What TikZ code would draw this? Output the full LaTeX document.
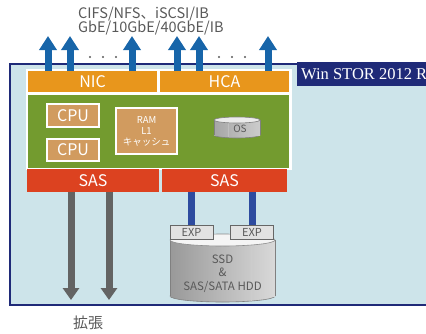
\documentclass[tikz,border=0pt]{standalone}
\usepackage{fontspec}
\setmainfont{Noto Sans CJK JP}
\newfontfamily\serifwin{Liberation Serif}
\usetikzlibrary{arrows.meta}
\definecolor{panelbg}{HTML}{CDE4EA}
\definecolor{navy}{HTML}{1F2A78}
\definecolor{nicorange}{HTML}{E8961C}
\definecolor{boardgreen}{HTML}{739B2F}
\definecolor{tan}{HTML}{D19B5F}
\definecolor{sasred}{HTML}{DC4220}
\definecolor{upblue}{HTML}{1765A9}
\definecolor{barblue}{HTML}{2D4B9F}
\definecolor{arrowgray}{HTML}{636363}
\definecolor{txtgray}{HTML}{595959}
\definecolor{expgray}{HTML}{E2E2E2}
\begin{document}
\begin{tikzpicture}[x=1pt,y=-1pt,
  blk/.style={inner sep=0pt,outer sep=0pt,text=white,font=\fontsize{16}{16}\selectfont},
  chip/.style={blk,fill=tan,draw=white,line width=1.8pt},
  expbox/.style={inner sep=0pt,outer sep=0pt,fill=expgray,draw=black!60,line width=0.8pt,
    minimum width=43pt,minimum height=14pt,text=txtgray,font=\fontsize{11}{11}\selectfont},
  uparrow/.style={draw=upblue,line width=7pt,-{Triangle[width=17pt,length=14pt]}},
  downarrow/.style={draw=arrowgray,line width=7pt,-{Triangle[width=16pt,length=12pt]}},
  bluebar/.style={draw=barblue,line width=7pt},
  gtxt/.style={text=txtgray,inner sep=0pt}
]
\useasboundingbox (0,0) rectangle (426,333);
\clip (0,0) rectangle (426,333);
% outer panel
\draw[fill=panelbg,draw=navy,line width=2pt] (10,64) rectangle (445,305);
\fill[navy] (297,62) rectangle (440,86);
\node[anchor=west,inner sep=0pt,text=white,font=\serifwin\fontsize{16.5}{16.5}\selectfont] (win) at (301,74.5) {Win STOR 2012 R2};
% white board frame
\fill[white] (26,69) rectangle (292,170);
\node[blk,fill=nicorange,minimum width=129pt,minimum height=21pt] (nic) at (92.5,81.5) {NIC};
\node[blk,fill=nicorange,minimum width=129pt,minimum height=21pt] (hca) at (224.5,81.5) {HCA};
\node[blk,fill=boardgreen,minimum width=261pt,minimum height=73pt] (board) at (158.5,131.5) {};
\node[chip,minimum width=52pt,minimum height=23pt] (cpu1) at (73,115.5) {CPU};
\node[chip,minimum width=52pt,minimum height=22pt] (cpu2) at (73,150) {CPU};
\node[chip,minimum width=61pt,minimum height=46pt,align=center,font=\fontsize{9.5}{11}\selectfont] (ram) at (146.5,131) {RAM\\L1\\キャッシュ};
% OS cylinder
\begin{scope}
\shade[left color=black!35,middle color=white,right color=black!20,draw=black!50,line width=0.6pt] (237,135) ellipse [x radius=23,y radius=3];
\shade[left color=black!35,middle color=white,right color=black!20] (214,120) rectangle (260,135);
\draw[black!50,line width=0.6pt] (214,120) -- (214,135) (260,120) -- (260,135);
\draw[black!25,line width=0.6pt] (228,121) -- (228,137);
\draw[fill=black!8,draw=black!50,line width=0.6pt] (237,120) ellipse [x radius=23,y radius=3];
\end{scope}
\node[gtxt,font=\fontsize{10}{10}\selectfont] (os) at (240,129) {OS};
% SAS
\node[blk,fill=sasred,minimum width=132pt,minimum height=23pt] (sasL) at (93,180.5) {SAS};
\node[blk,fill=sasred,minimum width=125pt,minimum height=23pt] (sasR) at (224.5,180.5) {SAS};
% disk
\begin{scope}
\shade[left color=black!40,middle color=white,right color=black!15,draw=black!50,line width=0.6pt] (222.5,296) ellipse [x radius=52.5,y radius=6];
\shade[left color=black!40,middle color=white,right color=black!15] (170,240) rectangle (275,296);
\draw[black!50,line width=0.6pt] (170,240) -- (170,296) (275,240) -- (275,296);
\draw[white!80!black,line width=0.5pt] (251,243) -- (251,301);
\draw[fill=black!4,draw=black!45,line width=0.6pt] (222.5,240) ellipse [x radius=52.5,y radius=6];
\end{scope}
\node[gtxt,align=center,font=\fontsize{11.5}{13.5}\selectfont] (disk) at (222.5,273.5) {SSD\\\&\\SAS/SATA HDD};
\node[expbox] (expL) at (191.5,232) {EXP};
\node[expbox] (expR) at (252,232) {EXP};
% blue bars
\draw[bluebar] (expL.north |- sasR.south) -- (expL.north);
\draw[bluebar] (expR.north |- sasR.south) -- (expR.north);
% gray down arrows
\coordinate (d1) at (71,300);
\coordinate (d2) at (109,300);
\draw[downarrow] (d1 |- sasL.south) -- (d1);
\draw[downarrow] (d2 |- sasL.south) -- (d2);
\node[gtxt,font=\fontsize{15}{15}\selectfont] (kakucho) at (88,323) {拡張};
% up arrows
\coordinate (u1) at (48,36);
\coordinate (u2) at (70,36);
\coordinate (u3) at (132,36);
\coordinate (u4) at (177,36);
\coordinate (u5) at (199,36);
\coordinate (u6) at (268,36);
\foreach \u in {u1,u2,u3} \draw[uparrow] (\u |- nic.north) -- (\u);
\foreach \u in {u4,u5,u6} \draw[uparrow] (\u |- hca.north) -- (\u);
% dots
\foreach \x in {90,103,116,219,232,245} \fill[txtgray] (\x,57) circle (1.1);
% top labels
\node[gtxt,anchor=base west,font=\fontsize{14.5}{14.5}\selectfont] (proto) at (78,18.3) {CIFS/NFS、iSCSI/IB};
\node[gtxt,anchor=base west,font=\fontsize{14.5}{14.5}\selectfont] (speed) at (78,32.7) {GbE/10GbE/40GbE/IB};
\end{tikzpicture}
\end{document}
